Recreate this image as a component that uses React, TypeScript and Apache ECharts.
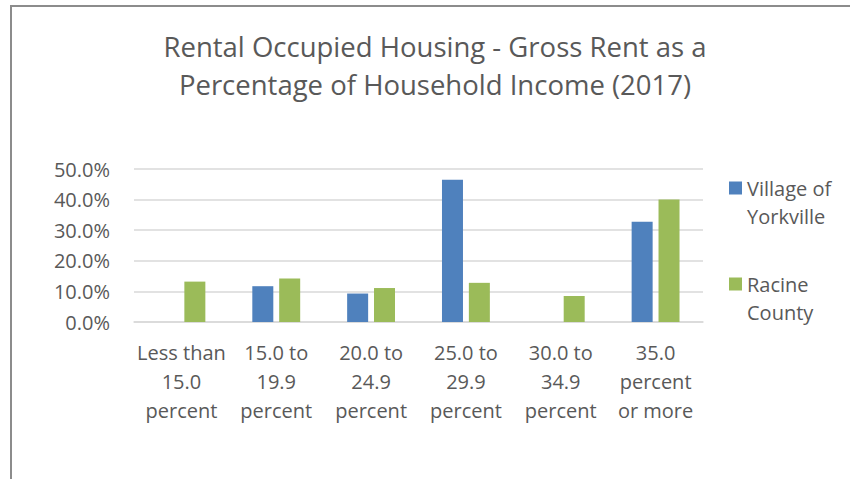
import React, { useEffect, useRef } from "react";
import * as echarts from "echarts";

const categories = [
  "Less than\n15.0\npercent",
  "15.0 to\n19.9\npercent",
  "20.0 to\n24.9\npercent",
  "25.0 to\n29.9\npercent",
  "30.0 to\n34.9\npercent",
  "35.0\npercent\nor more",
];
const yorkville = [0, 11.7, 9.3, 46.5, 0, 32.8];
const racine = [13.2, 14.2, 11.1, 12.8, 8.5, 40.0];
const seriesNames = ["Village of\nYorkville", "Racine\nCounty"];
const titleText = "Rental Occupied Housing - Gross Rent as a\nPercentage of Household Income (2017)";

const FONT = "'Open Sans', sans-serif";
const TEXT = "#595959";

export default function App() {
  const ref = useRef<HTMLDivElement>(null);
  useEffect(() => {
    if (!ref.current) return;
    const chart = echarts.init(ref.current, null, { renderer: "svg" });
    chart.setOption({
      animation: false,
      backgroundColor: "#ffffff",
      title: {
        text: titleText,
        left: 430,
        textAlign: "center",
        top: 22,
        textStyle: {
          fontFamily: FONT,
          fontSize: 27.5,
          fontWeight: "normal",
          color: TEXT,
          lineHeight: 38,
        },
      },
      legend: {
        orient: "vertical",
        left: 724,
        top: 141,
        itemWidth: 13,
        itemHeight: 13,
        itemGap: 12,
        icon: "rect",
        formatter: (name: string) => "\n" + name,
        textStyle: {
          fontFamily: FONT,
          fontSize: 20,
          color: TEXT,
          lineHeight: 28,
        },
        data: seriesNames,
      },
      graphic: [
        {
          type: "rect",
          shape: { x: 11, y: 6, width: 900, height: 600 },
          style: { fill: "none", stroke: "#8c8c8c", lineWidth: 2 },
          silent: true,
        },
      ],
      grid: {
        left: 134,
        right: 147,
        top: 169,
        bottom: 479 - 322,
        containLabel: false,
      },
      xAxis: {
        type: "category",
        data: categories,
        axisTick: { show: false },
        axisLine: { lineStyle: { color: "#d9d9d9", width: 1.5 } },
        axisLabel: {
          interval: 0,
          fontFamily: FONT,
          fontSize: 20,
          color: TEXT,
          lineHeight: 29,
          margin: 16,
        },
      },
      yAxis: {
        type: "value",
        min: 0,
        max: 50,
        interval: 10,
        axisLine: { show: false },
        axisTick: { show: false },
        splitLine: { lineStyle: { color: "#d9d9d9", width: 1.5 } },
        axisLabel: {
          fontFamily: FONT,
          fontSize: 20,
          color: TEXT,
          margin: 24,
          formatter: (v: number) => v.toFixed(1) + "%",
        },
      },
      series: [
        {
          name: seriesNames[0],
          type: "bar",
          data: yorkville,
          barWidth: 21,
          barGap: "28%",
          itemStyle: { color: "#4f81bd" },
        },
        {
          name: seriesNames[1],
          type: "bar",
          data: racine,
          barWidth: 21,
          barGap: "28%",
          itemStyle: { color: "#9bbb59" },
        },
      ],
    });
    return () => chart.dispose();
  }, []);
  return (
    <div
      ref={ref}
      style={{ position: "absolute", left: 0, top: 0, width: 850, height: 479 }}
    />
  );
}
